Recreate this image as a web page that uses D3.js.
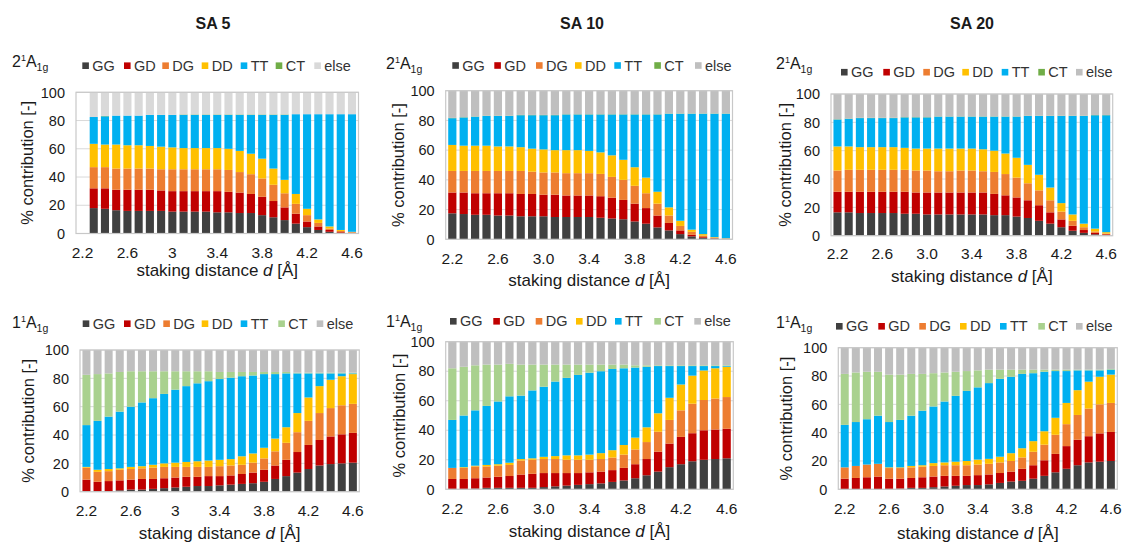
<!DOCTYPE html>
<html>
<head>
<meta charset="utf-8">
<script src="https://cdn.jsdelivr.net/npm/d3@7"></script>
<style>
  body { margin: 0; background: #fff; }
  text { font-family: "Liberation Sans", Arial, sans-serif; fill: #1a1a1a; }
</style>
</head>
<body>
<div id="chart"></div>
<script>
// categories: stacking distance d [Å]
const distances = ['2.2','2.3','2.4','2.5','2.6','2.7','2.8','2.9','3.0','3.1','3.2','3.3','3.4',
                   '3.5','3.6','3.7','3.8','3.9','4.0','4.1','4.2','4.3','4.4','4.5','4.6'];
const tickCats = ['2.2','2.6','3.0','3.4','3.8','4.2','4.6'];
const tickLabelsShort = ['2.2','2.6','3','3.4','3.8','4.2','4.6'];
const tickLabelsLong  = ['2.2','2.6','3.0','3.4','3.8','4.2','4.6'];
const seriesNames = ['GG','GD','DG','DD','TT','CT','else'];

// SA 5, 2^1A1g  (rows: GG, GD, DG, DD, TT, CT, else)
const sa5_2A = [
  [0,18,17.5,16.5,16,16,16,16,15.5,15.5,15.5,15.5,15,15,14.5,14.5,13,11.5,9.5,7,4.5,2.5,1.2,0.5,0.3],
  [0,14,14.5,14.5,15,15,15,14.5,14.5,14.5,14.5,14.5,15,14.5,14.5,13.5,13,11.5,9,7,4,2.5,1.3,0.5,0.3],
  [0,15,15,15,15,15,15,15,15.5,15.5,15.5,15.5,15.5,15.5,14.5,14,13,11.5,10,7,4.5,2.5,1,0.8,0.3],
  [0,16.5,16,17,16.5,16.5,16,16,15.5,15,15,15,15,15,15,14.5,14,11.5,9.5,7,4.5,2.5,1.5,0.7,0.3],
  [0,19,20,20.5,21,21,22,22.5,23,23.5,23.5,23.5,23.5,24,25.5,27.5,31,38,46,56.5,67,74.5,79.5,82,83.3],
  [0,0,0.3,0,0,0,0,0,0,0.3,0.3,0.3,0.3,0.3,0.3,0.3,0.3,0.3,0.3,0,0,0,0,0,0],
  [0,17.5,16.7,16.5,16.5,16.5,16,16,16,15.7,15.7,15.7,15.7,15.7,15.7,15.7,15.7,15.7,15.7,15.5,15.5,15.5,15.5,15.5,15.5]
];
// SA 10, 2^1A1g
const sa10_2A = [
  [17.5,17,16.5,16.5,16,16,15.5,15.5,15.5,15,15,15,15,14.5,14,13.5,12,10.5,8,6,3.5,2,1,0.5,0.2],
  [14,14.5,14.5,14.5,15,15,15,15,14.5,15,14.5,14.5,14.5,14.5,14,13,12,10.5,8,5,2.5,1,0.5,0.2,0.1],
  [14.5,14.5,15,15,15,15,15.5,15,15,15,15,15,15,15,14,13.5,12,10,8,5,3,2,1,0.5,0.2],
  [17.5,17,17,17,16.5,16.5,16,15.5,15.5,15,15.5,15.5,15,14.5,14.5,13.5,12.5,10.5,8,5.5,3.5,1.5,1,0.3,0.2],
  [18,19,19.5,20,20.5,20.5,21.5,22.5,23,23.5,24,24,24.5,25.5,27.5,30.5,35.5,42.5,52,63,72,78,81,83,83.8],
  [0.2,0.2,0.2,0.2,0.2,0.2,0.2,0.2,0.2,0.2,0.2,0.2,0.2,0.2,0.2,0.2,0.2,0.2,0.2,0.2,0.2,0.2,0.2,0.2,0.2],
  [18.3,17.8,17.3,16.8,16.8,16.8,16.3,16.3,16.3,16.3,15.8,15.8,15.8,15.8,15.8,15.8,15.8,15.8,15.8,15.3,15.3,15.3,15.3,15.3,15.3]
];
// SA 20, 2^1A1g
const sa20_2A = [
  [16.5,16.5,16,16,16,16,15.5,15.5,15,15,15,15,15,15,14.5,14.5,13.5,12.5,10.5,8.5,6,3.5,2,1,0.5],
  [14.5,14.5,15,15,15,15,15.5,15,15.5,15.5,15.5,15.5,15.5,15.5,15,14,13.5,12.5,11,8,5.5,3.5,2,1,0.5],
  [15,15.5,15.5,15.5,15.5,15.5,15.5,15.5,15.5,15,15,15.5,15.5,15,15.5,15,14,12,10.5,8.5,5.5,3.5,2,1,0.5],
  [17,16.5,16,16,16,16,15.5,15.5,15.5,16,16,15.5,15.5,15.5,15,14.5,14,13,11,9,6,4.5,2.5,2,1],
  [19,19.5,20.5,20.5,20.5,20.5,21.5,22,22,22.5,22.5,22.5,22.5,23,24,26,29,34.5,41.5,50.5,61.5,69.5,76,80,82.5],
  [0.2,0.2,0.2,0.2,0.2,0.2,0.2,0.2,0.2,0.2,0.2,0.2,0.2,0.2,0.2,0.2,0.2,0.2,0.2,0.2,0.2,0.2,0.2,0.2,0.2],
  [17.8,17.3,16.8,16.8,16.8,16.8,16.3,16.3,16.3,15.8,15.8,15.8,15.8,15.8,15.8,15.8,15.8,15.3,15.3,15.3,15.3,15.3,15.3,14.8,14.8]
];
// SA 5, 1^1A1g
const sa5_1A = [
  [0.5,0.5,0.5,1,1.5,1.5,2,2.5,3,3.5,4,4,4.5,5,5.5,6,7,9,11,13.5,16,18.5,19.5,20,20.5],
  [8,6.5,7,7,7,7.5,7,7,7,7,6.5,7,6.5,6.5,7,7.5,8.5,9.5,11.5,14.5,17,18,19.5,20.5,21],
  [8.5,7,7,7.5,7.5,7.5,8,8,7.5,7,7,6.5,7,7,6.5,7,8,10,12,14,17,19,20,20.5,20.5],
  [0.5,1.5,1.5,1,1.5,1.5,2,2.5,3,3.5,4,4.5,4.5,4.5,6,6.5,7.5,9,11,13.5,16.5,19,20,20.5,21],
  [29.5,34.5,37,40,42.5,45,47,49,51.5,53.5,55,56,57,57.5,56.5,55,52,45.5,38,28,17,9,4.5,2,0.5],
  [35.5,33,30.5,28,25,22,19,16,13,10.5,8.5,7,5,4,3,2.5,1.5,1.5,1,0.5,0.5,0.5,0.5,0.5,0.5],
  [17.5,17,16.5,15.5,15,15,15,15,15,15,15,15,15.5,15.5,15.5,15.5,15.5,15.5,15.5,16,16,16,16,16,16]
];
// SA 10, 1^1A1g
const sa10_1A = [
  [0.3,0.3,0.5,1,1,1,1,1,1.5,2,2.5,3,3.5,4,5,6,7.5,9.5,12,15,17,19,20,20.5,21],
  [6.7,6.7,7,7,7.5,8,9,9.5,9.5,9,8.5,8,8,8,8,8.5,9.5,11,13.5,16,18.5,19,20,20,20],
  [7.5,7.5,8,7.5,7.5,7.5,9.5,9.5,9.5,9.5,9,9,8.5,8.5,8.5,9,10,11.5,13.5,16,18,20,20.5,21,21.5],
  [0,0.5,0.5,1,1,1.5,1,1,1.5,2,3,3,3.5,4,5,6.5,8,10,12.5,15,17.5,19,20,20.5,20.5],
  [32.5,35,37.5,40,42.5,45,43,46,47.5,50.5,52.5,54.5,55.5,55.5,55,52,47.5,41,32,21.5,12.5,6.5,3,1.5,0.5],
  [35,33,30.5,28,25,22,21,17.5,15,11.5,9,7,5.5,4.5,3,2.5,1.5,1,0.5,0.5,0.5,0.5,0.5,0.5,0.5],
  [18,17,16,15.5,15.5,15,15.5,15.5,15.5,15.5,15.5,15.5,15.5,15.5,15.5,15.5,16,16,16,16,16,16,16,16,16]
];
// SA 20, 1^1A1g
const sa20_1A = [
  [0.2,0.2,0.2,0.2,0.3,0.5,1,1,1.5,2,2.5,3,3,3.5,4.5,5.5,6,7.5,9.5,12,14.5,17,19,19.5,20],
  [7.3,7.8,8.3,8.8,7.2,7,7,7.5,7.5,7.5,7,6.5,7,7,7,7,8.5,9.5,11,13,16,18,18.5,20,20.5],
  [8,8.5,9,9,7.5,7.5,7.5,7.5,7.5,7.5,7.5,7.5,7.5,7.5,7.5,7.5,8,9.5,11,13.5,15.5,17.5,19.5,20.5,20.5],
  [0,0,0,0,0.5,0.5,1,1,2,2,2.5,3,3.5,3.5,4,5.5,6.5,7.5,9.5,12,15,17.5,19,19.5,20],
  [30,31,32,34,32,33.5,35.5,38.5,40,43,46.5,49.5,51,53.5,55,54,52.5,48,42,33,22.5,14,8,4.5,3.5],
  [36,35,33.5,31,33.5,32,29.5,26,23.5,20.5,17,14,12,9.5,6.5,5,3,2.5,1.5,1,1,0.5,0.5,0.5,0.5],
  [18.5,17.5,17,17,19,19,18.5,18.5,18,17.5,17,16.5,16,15.5,15.5,15.5,15.5,15.5,15.5,15.5,15.5,15.5,15.5,15.5,15]
];

const topColors = ['#404040','#C00000','#ED7D31','#FFC000','#00B0F0','#70AD47','#BFBFBF'];
const botColors = ['#404040','#C00000','#ED7D31','#FFC000','#00B0F0','#A9D18E','#BFBFBF'];

const W = 1125, H = 545;
const svg = d3.select('#chart').append('svg').attr('width', W).attr('height', H);

// panel layout
const panels = [
  {data: sa5_2A,  state: '2', colors: topColors, elseColor: '#D9D9D9', ticks: tickLabelsShort,
   x0: 76, x1: 358.5, yTop: 92.3, yBot: 233.5, legX: [82.3,124,162.3,201.7,240.7,275.7,314.3], legY: 65.7,
   labX: 12, labY: 67, yTitleX: 27, tickY: 258, xTitleY: 276},
  {data: sa10_2A, state: '2', colors: topColors, elseColor: '#BFBFBF', ticks: tickLabelsLong,
   x0: 445.7, x1: 732.5, yTop: 90.7, yBot: 239.3, legX: [452.3,494.3,536,575,614.3,654.3,695], legY: 65.5,
   labX: 386, labY: 69, yTitleX: 398.5, tickY: 263.5, xTitleY: 286},
  {data: sa20_2A, state: '2', colors: topColors, elseColor: '#BFBFBF', ticks: tickLabelsLong,
   x0: 831, x1: 1112.7, yTop: 94, yBot: 235.7, legX: [841,883.3,923.3,962.3,1001.7,1038.3,1076], legY: 72.2,
   labX: 776, labY: 69, yTitleX: 785, tickY: 258.5, xTitleY: 282},
  {data: sa5_1A,  state: '1', colors: botColors, elseColor: '#BFBFBF', ticks: tickLabelsShort,
   x0: 80, x1: 359.3, yTop: 350, yBot: 491.7, legX: [82.7,124,163.3,201.7,240.7,278.3,316.7], legY: 323.7,
   labX: 12, labY: 328, yTitleX: 28.3, tickY: 516, xTitleY: 539},
  {data: sa10_1A, state: '1', colors: botColors, elseColor: '#BFBFBF', ticks: tickLabelsLong,
   x0: 445.7, x1: 733.3, yTop: 341.7, yBot: 489.3, legX: [450,493.3,535.7,576,615,654.3,694.3], legY: 321.3,
   labX: 386, labY: 326.5, yTitleX: 399, tickY: 513.5, xTitleY: 537},
  {data: sa20_1A, state: '1', colors: botColors, elseColor: '#BFBFBF', ticks: tickLabelsLong,
   x0: 838.3, x1: 1117.3, yTop: 347.7, yBot: 489.3, legX: [836,878.3,919.3,960,1000,1038.3,1076], legY: 326.3,
   labX: 776, labY: 328, yTitleX: 786.7, tickY: 513.5, xTitleY: 539}
];

// column titles
[['SA 5', 213], ['SA 10', 582], ['SA 20', 972]].forEach(([t, x]) => {
  svg.append('text').attr('x', x).attr('y', 29).attr('text-anchor', 'middle')
    .style('font-size', '16px').style('font-weight', 'bold').text(t);
});

panels.forEach(p => {
  const g = svg.append('g');
  const colors = p.colors.slice(0, 6).concat([p.elseColor]);

  const x = d3.scaleBand().domain(distances).range([p.x0, p.x1]).paddingInner(0.28).paddingOuter(0.22);
  const y = d3.scaleLinear().domain([0, 100]).range([p.yBot, p.yTop]);

  const rows = distances.map((d, i) => {
    const r = {d: d};
    seriesNames.forEach((s, k) => { r[s] = p.data[k][i]; });
    return r;
  });
  const stacked = d3.stack().keys(seriesNames)(rows);

  // gridlines
  g.selectAll('.grid').data(y.ticks(5)).enter().append('line')
    .attr('x1', p.x0).attr('x2', p.x1)
    .attr('y1', d => y(d)).attr('y2', d => y(d))
    .attr('stroke', '#D9D9D9').attr('stroke-width', 1);

  // bars
  stacked.forEach((layer, k) => {
    g.append('g').selectAll('rect').data(layer).enter().append('rect')
      .attr('x', d => x(d.data.d))
      .attr('width', x.bandwidth())
      .attr('y', d => y(d[1]))
      .attr('height', d => Math.max(0, y(d[0]) - y(d[1])))
      .attr('fill', colors[k]);
  });

  // plot frame
  g.append('rect').attr('x', p.x0).attr('y', p.yTop)
    .attr('width', p.x1 - p.x0).attr('height', p.yBot - p.yTop)
    .attr('fill', 'none').attr('stroke', '#C8C8C8').attr('stroke-width', 1.2);

  // y axis labels
  g.selectAll('.ylab').data(y.ticks(5)).enter().append('text')
    .attr('x', p.x0 - 11).attr('y', d => y(d) + 5.2)
    .attr('text-anchor', 'end').style('font-size', '14.5px')
    .text(d => d);

  // x axis labels
  g.selectAll('.xlab').data(tickCats).enter().append('text')
    .attr('x', d => x(d) + x.bandwidth() / 2).attr('y', p.tickY)
    .attr('text-anchor', 'middle').style('font-size', '15.5px')
    .text((d, i) => p.ticks[i]);

  // axis titles
  const xt = g.append('text').attr('x', (p.x0 + p.x1) / 2).attr('y', p.xTitleY)
    .attr('text-anchor', 'middle').style('font-size', '17px');
  xt.append('tspan').text('staking distance ');
  xt.append('tspan').style('font-style', 'italic').text('d');
  xt.append('tspan').text(' [Å]');

  g.append('text')
    .attr('transform', `translate(${p.yTitleX},${(p.yTop + p.yBot) / 2}) rotate(-90)`)
    .attr('text-anchor', 'middle').attr('dy', '0.35em').style('font-size', '16.5px')
    .text('% contribution [-]');

  // state label, e.g. 2^1A_1g
  const lab = g.append('text').attr('x', p.labX).attr('y', p.labY).style('font-size', '16px');
  lab.append('tspan').text(p.state);
  lab.append('tspan').attr('dy', -6).style('font-size', '9px').text('1');
  lab.append('tspan').attr('dy', 6).text('A');
  lab.append('tspan').attr('dy', 4).style('font-size', '10.5px').text('1g');

  // legend
  seriesNames.forEach((s, k) => {
    g.append('rect').attr('x', p.legX[k]).attr('y', p.legY - 3.3)
      .attr('width', 6.6).attr('height', 6.6).attr('fill', colors[k]);
    g.append('text').attr('x', p.legX[k] + 10).attr('y', p.legY + 5)
      .style('font-size', '14.5px').style('fill', '#333').text(s);
  });
});
</script>
</body>
</html>
